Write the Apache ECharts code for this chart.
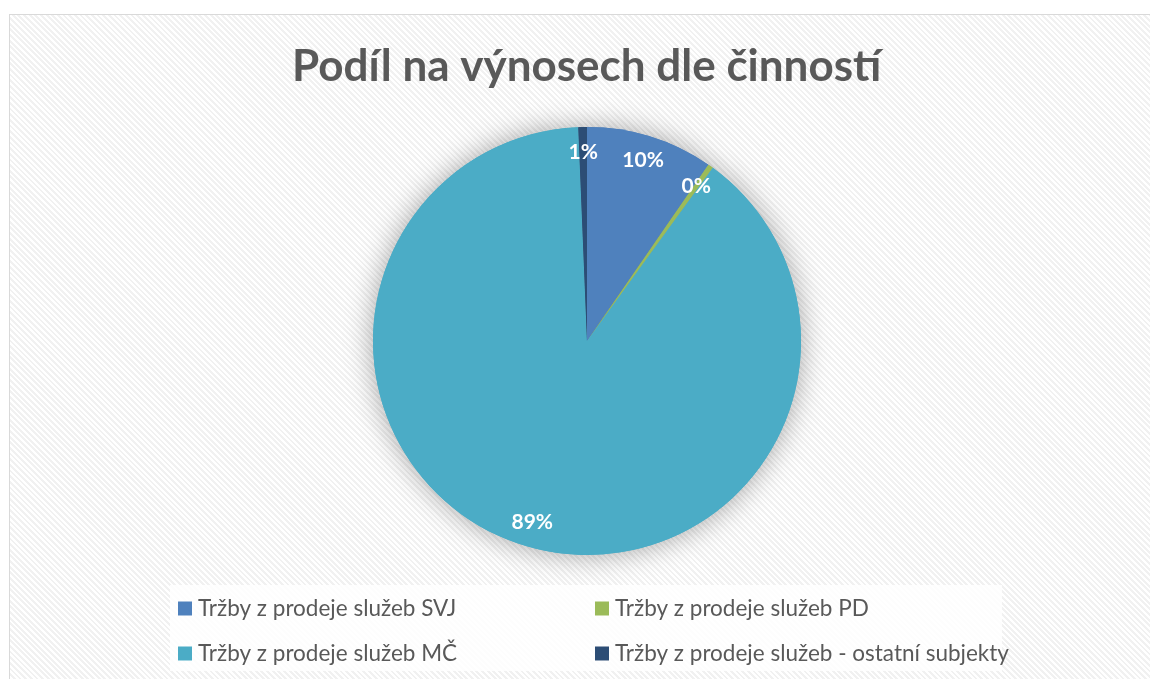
<!DOCTYPE html>
<html>
<head>
<meta charset="utf-8">
<title>Podíl na výnosech dle činností</title>
<script src="https://cdn.jsdelivr.net/npm/echarts@6/dist/echarts.min.js"></script>
<style>
  html, body { margin: 0; padding: 0; background: #fff; overflow: hidden; }
  #frame {
    position: absolute; left: 9px; top: 14px; width: 1200px; height: 720px;
    border: 1px solid #d9d9d9;
    background: repeating-linear-gradient(45deg, #ffffff 0px, #ffffff 2px, #f1f1f1 2px, #f1f1f1 4px);
  }
  #chart { position: absolute; left: 0; top: 0; width: 1150px; height: 679px; }
</style>
</head>
<body>
<div id="frame"></div>
<div id="chart"></div>
<script>
// data (share of revenue, %)
var categories = [
  'Tržby z prodeje služeb SVJ',
  'Tržby z prodeje služeb PD',
  'Tržby z prodeje služeb MČ',
  'Tržby z prodeje služeb - ostatní subjekty'
]
var values = [9.6, 0.4, 89.35, 0.65]
var colors = ['#4F81BD', '#9BBB59', '#4BACC6', '#2C4D75']

var FONT = 'Lato, "Open Sans", sans-serif'

var chart = echarts.init(document.getElementById('chart'))

function pieData(withColor) {
  return categories.map(function(name, i) {
    return {
      name: name,
      value: values[i],
      itemStyle: withColor ? { color: colors[i] } : { color: 'rgba(0,0,0,0)' }
    }
  })
}

var center = [587, 341]

var legendBase = {
  orient: 'vertical',
  top: 597,
  padding: 0,
  icon: 'rect',
  itemWidth: 14,
  itemHeight: 14,
  itemGap: 22,
  selectedMode: false,
  textStyle: { fontFamily: FONT, fontSize: 22.5, color: '#595959', padding: [0, 0, 0, 1] }
}

chart.setOption({
  backgroundColor: 'transparent',
  color: colors,
  title: {
    text: 'Podíl na výnosech dle činností',
    left: 287,
    top: 40,
    textStyle: {
      fontFamily: FONT,
      fontSize: 44,
      fontWeight: 'bold',
      color: '#595959'
    }
  },
  graphic: [{
    type: 'rect',
    z: -1,
    shape: { x: 170, y: 585, width: 832, height: 86 },
    style: { fill: 'rgba(255,255,255,0.85)' },
    silent: true
  }],
  legend: [
    Object.assign({}, legendBase, { left: 178, data: [categories[0], categories[2]] }),
    Object.assign({}, legendBase, { left: 595, data: [categories[1], categories[3]] })
  ],
  series: [
    {
      // shadow base
      type: 'pie',
      silent: true,
      center: center,
      radius: 214,
      startAngle: 90,
      z: 1,
      label: { show: false },
      labelLine: { show: false },
      itemStyle: { shadowBlur: 28, shadowColor: 'rgba(0,0,0,0.35)' },
      data: pieData(true)
    },
    {
      type: 'pie',
      center: center,
      radius: 214,
      startAngle: 90,
      z: 2,
      label: { show: false },
      labelLine: { show: false },
      emphasis: { disabled: true },
      data: pieData(true)
    },
    {
      // label ring so labels sit near the outer edge
      type: 'pie',
      silent: true,
      center: center,
      radius: [0, 372],
      startAngle: 90,
      z: 3,
      label: {
        show: true,
        position: 'inside',
        fontFamily: FONT,
        fontSize: 21,
        fontWeight: 'bold',
        color: '#ffffff',
        formatter: function(p) {
          return Math.round(p.percent) + '%'
        }
      },
      labelLine: { show: false },
      data: pieData(false)
    }
  ]
})
</script>
</body>
</html>
